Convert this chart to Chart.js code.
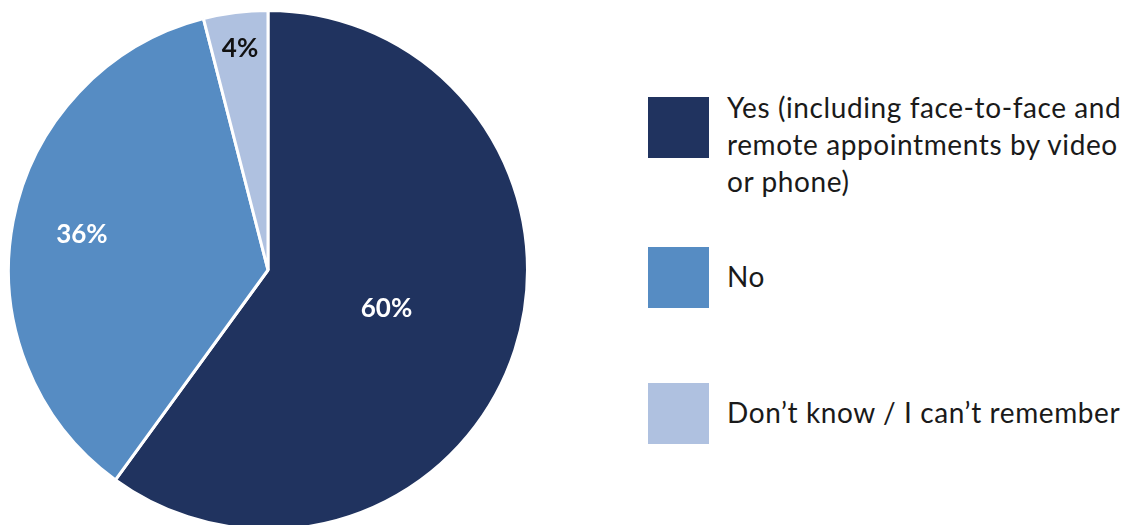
<!DOCTYPE html>
<html>
<head>
<meta charset="utf-8">
<script src="https://cdn.jsdelivr.net/npm/chart.js@4/dist/chart.umd.min.js"></script>
<style>
  html, body { margin: 0; padding: 0; background: #fff; width: 1130px; height: 525px; overflow: hidden; }
  #wrap { position: absolute; left: 0; top: 0; width: 536px; height: 540px; }
  #legend { position: absolute; left: 648px; top: 0; font-family: Lato, "Open Sans", sans-serif; color: #1a1a1a; }
  .item { position: absolute; left: 0; width: 480px; }
  .box { position: absolute; left: 0; top: 0; width: 61px; height: 61px; }
  .txt { position: absolute; left: 79px; font-size: 28px; letter-spacing: 0.6px; line-height: 37px; white-space: nowrap; }
</style>
</head>
<body>
<div id="wrap"><canvas id="chart"></canvas></div>
<div id="legend"></div>
<script>
const labels = ['Yes (including face-to-face and\nremote appointments by video\nor phone)', 'No', 'Don\u2019t know / I can\u2019t remember'];
const values = [60, 36, 4];
const colors = ['#20335f', '#568cc3', '#afc1e0'];
const labelColors = ['#ffffff', '#ffffff', '#111111'];
// how far out along the radius each percentage sits
const labelRadius = [0.48, 0.73, 0.86];

// legend rows: top of box, top of text
const legendRows = [
  { box: 97, text: 89 },
  { box: 247, text: 258 },
  { box: 383, text: 394 },
];

const legend = document.getElementById('legend');
labels.forEach((l, i) => {
  const row = document.createElement('div');
  row.className = 'item';
  row.style.top = legendRows[i].box + 'px';
  row.innerHTML = `<div class="box" style="background:${colors[i]}"></div>
    <div class="txt" style="top:${legendRows[i].text - legendRows[i].box}px">${l.split('\n').join('<br>')}</div>`;
  legend.appendChild(row);
});

const pctLabels = {
  id: 'pctLabels',
  afterDatasetsDraw(chart) {
    const ctx = chart.ctx;
    const meta = chart.getDatasetMeta(0);
    ctx.save();
    ctx.font = 'bold 26px Lato, "Open Sans", sans-serif';
    ctx.textAlign = 'center';
    ctx.textBaseline = 'middle';
    meta.data.forEach((arc, i) => {
      const p = arc.getProps(['x', 'y', 'startAngle', 'endAngle', 'outerRadius'], true);
      const a = (p.startAngle + p.endAngle) / 2;
      const r = p.outerRadius * labelRadius[i];
      ctx.fillStyle = labelColors[i];
      ctx.fillText(values[i] + '%', p.x + Math.cos(a) * r, p.y + Math.sin(a) * r);
    });
    ctx.restore();
  }
};

new Chart(document.getElementById('chart'), {
  type: 'pie',
  data: { labels, datasets: [{ data: values, backgroundColor: colors, borderColor: '#ffffff', borderWidth: 3 }] },
  options: {
    responsive: true,
    maintainAspectRatio: false,
    animation: false,
    layout: { padding: { left: 7, top: 9, right: 7, bottom: 9 } },
    plugins: { legend: { display: false }, tooltip: { enabled: false } },
  },
  plugins: [pctLabels],
});
</script>
</body>
</html>
